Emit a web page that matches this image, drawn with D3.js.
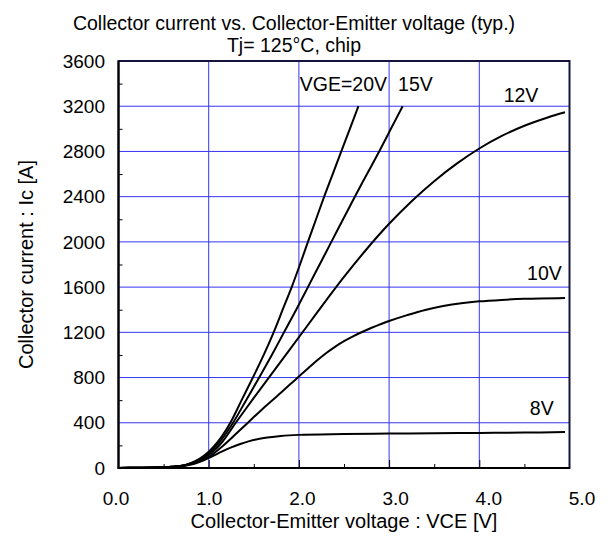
<!DOCTYPE html>
<html>
<head>
<meta charset="utf-8">
<style>
  body { margin: 0; background: #fff; }
  text { font-family: "Liberation Sans", Arial, sans-serif; fill: #000; }
  .grid line { stroke: #3535f2; stroke-width: 1; }
  .curve { fill: none; stroke: #000; stroke-width: 2; stroke-linejoin: round; }
  .minor line { stroke: #000; stroke-width: 1; }
  .minor path { stroke: none; }
</style>
</head>
<body>
<svg width="611" height="547"></svg>
<script src="https://cdn.jsdelivr.net/npm/d3@7/dist/d3.min.js"></script>
<script>

// Ic [A] vs VCE [V]
var vge20 = [[0,0],[0.2,2],[0.4,4],[0.55,8],[0.65,15],[0.75,28],[0.85,60],[0.95,110],[1.05,185],[1.15,285],
  [1.24,400],[1.365,600],[1.49,800],[1.61,1000],[1.72,1200],[1.82,1400],[1.92,1600],[2.012,1800],
  [2.10,2000],[2.19,2200],[2.28,2400],[2.375,2600],[2.47,2800],[2.565,3000],[2.66,3200]];
var vge15 = [[0,0],[0.2,2],[0.4,4],[0.55,8],[0.65,15],[0.75,27],[0.85,55],[0.95,100],[1.05,168],[1.15,260],
  [1.27,400],[1.415,600],[1.56,800],[1.70,1000],[1.835,1200],[1.97,1400],[2.10,1600],[2.23,1800],
  [2.36,2000],[2.49,2200],[2.62,2400],[2.755,2600],[2.89,2800],[3.02,3000],[3.15,3200]];
var vge12 = [[0,0],[0.2,2],[0.4,4],[0.55,8],[0.65,14],[0.75,26],[0.85,50],[0.95,90],[1.05,148],[1.15,230],
  [1.3,400],[1.5,620],[1.7,835],[1.9,1050],[2.1,1265],[2.3,1480],[2.5,1690],[2.75,1935],[3.0,2160],
  [3.25,2360],[3.5,2537],[3.75,2692],[4.0,2826],[4.25,2937],[4.5,3027],[4.75,3098],[4.95,3146]];
var vge10 = [[0,0],[0.2,2],[0.4,4],[0.55,8],[0.65,13],[0.75,24],[0.85,45],[0.95,76],[1.05,125],[1.15,190],
  [1.3,300],[1.42,390],[1.6,525],[1.8,665],[2.0,810],[2.1,880],[2.2,950],[2.3,1015],[2.4,1072],
  [2.5,1122],[2.6,1165],[2.7,1203],[2.8,1238],[2.9,1270],[3.0,1300],[3.2,1352],[3.4,1398],[3.6,1432],
  [3.8,1457],[4.0,1474],[4.25,1487],[4.5,1496],[4.95,1504]];
var vge8 = [[0,0],[0.2,2],[0.4,4],[0.55,8],[0.65,13],[0.75,23],[0.85,40],[0.95,70],[1.05,108],[1.15,147],
  [1.25,182],[1.35,212],[1.45,238],[1.55,257],[1.65,270],[1.8,284],[2.0,293],[2.5,300],[3.0,305],
  [3.5,307],[4.0,310],[4.5,313],[4.95,318]];
var series = [vge20, vge15, vge12, vge10, vge8];

// curve labels: text, VCE, Ic at the text's start / baseline
var curveLabels = [["VGE=20V", 2.01, 3337], ["15V", 3.10, 3337], ["12V", 4.27, 3240],
  ["10V", 4.53, 1663], ["8V", 4.56, 469]];

var xTicks = [0, 1, 2, 3, 4, 5];
var xMinor = [0.5, 1.5, 2.5, 3.5, 4.5];
var yTicks = [0, 400, 800, 1200, 1600, 2000, 2400, 2800, 3200, 3600];
var yMinor = [200, 600, 1000, 1400, 1800, 2200, 2600, 3000, 3400];

var svg = d3.select("svg");
var pL = 118.5, pR = 569.5, pT = 61, pB = 468;

var x = d3.scaleLinear().domain([0, 5]).range([pL, pR]);
var y = d3.scaleLinear().domain([0, 3600]).range([pB, pT]);
// the printed x labels drift a little right of their gridlines
var xLab = d3.scaleLinear().domain([0, 5]).range([116, 582]);

// grid
var grid = svg.append("g").attr("class", "grid");
grid.selectAll(".gx").data(xTicks.slice(1, -1)).enter().append("line")
  .attr("x1", x).attr("x2", x).attr("y1", pT).attr("y2", pB);
grid.selectAll(".gy").data(yTicks.slice(1, -1)).enter().append("line")
  .attr("x1", pL).attr("x2", pR).attr("y1", y).attr("y2", y);

// minor ticks, pointing inward
svg.append("g").attr("class", "minor")
  .attr("transform", "translate(0," + pB + ")")
  .call(d3.axisBottom(x).tickValues(xMinor).tickSize(-4).tickFormat(""));
svg.append("g").attr("class", "minor")
  .attr("transform", "translate(0," + pB + ")")
  .call(d3.axisBottom(x).tickValues(xTicks.slice(1, -1)).tickSize(-8).tickFormat(""));
svg.append("g").attr("class", "minor")
  .attr("transform", "translate(" + pL + ",0)")
  .call(d3.axisLeft(y).tickValues(yMinor).tickSize(-4).tickFormat(""));

// frame
svg.append("rect").attr("x", pL).attr("y", pT)
  .attr("width", pR - pL).attr("height", pB - pT)
  .attr("fill", "none").attr("stroke", "#14143c").attr("stroke-width", 2);
svg.append("path").attr("d", "M" + pL + "," + pT + "V" + pB + "H" + pR)
  .attr("fill", "none").attr("stroke", "#000").attr("stroke-width", 2);

// curves
var line = d3.line()
  .x(function(d) { return x(d[0]); })
  .y(function(d) { return y(d[1]); })
  .curve(d3.curveCatmullRom.alpha(0.5));
svg.selectAll(".curve").data(series).enter().append("path")
  .attr("class", "curve").attr("d", line);

svg.selectAll(".clab").data(curveLabels).enter().append("text")
  .attr("x", function(d) { return x(d[1]); })
  .attr("y", function(d) { return y(d[2]); })
  .style("font-size", "19.5px")
  .text(function(d) { return d[0]; });

// tick labels
svg.selectAll(".xl").data(xTicks).enter().append("text")
  .attr("x", xLab).attr("y", 505)
  .attr("text-anchor", "middle").style("font-size", "19px")
  .text(function(d) { return d3.format(".1f")(d); });
svg.selectAll(".yl").data(yTicks).enter().append("text")
  .attr("x", 105).attr("y", y).attr("dy", "0.35em")
  .attr("text-anchor", "end").style("font-size", "19px")
  .text(function(d) { return d; });

// titles
svg.append("text").attr("x", 294).attr("y", 30).attr("text-anchor", "middle")
  .style("font-size", "19.5px").text("Collector current vs. Collector-Emitter voltage (typ.)");
svg.append("text").attr("x", 294).attr("y", 51.5).attr("text-anchor", "middle")
  .style("font-size", "19.5px").text("Tj= 125°C, chip");
svg.append("text").attr("x", (pL + pR) / 2).attr("y", 528).attr("text-anchor", "middle")
  .style("font-size", "20px").text("Collector-Emitter voltage : VCE [V]");
svg.append("text")
  .attr("transform", "translate(33," + (pT + pB) / 2 + ") rotate(-90)")
  .attr("text-anchor", "middle").style("font-size", "20px")
  .text("Collector current : Ic [A]");

</script>
</body>
</html>
